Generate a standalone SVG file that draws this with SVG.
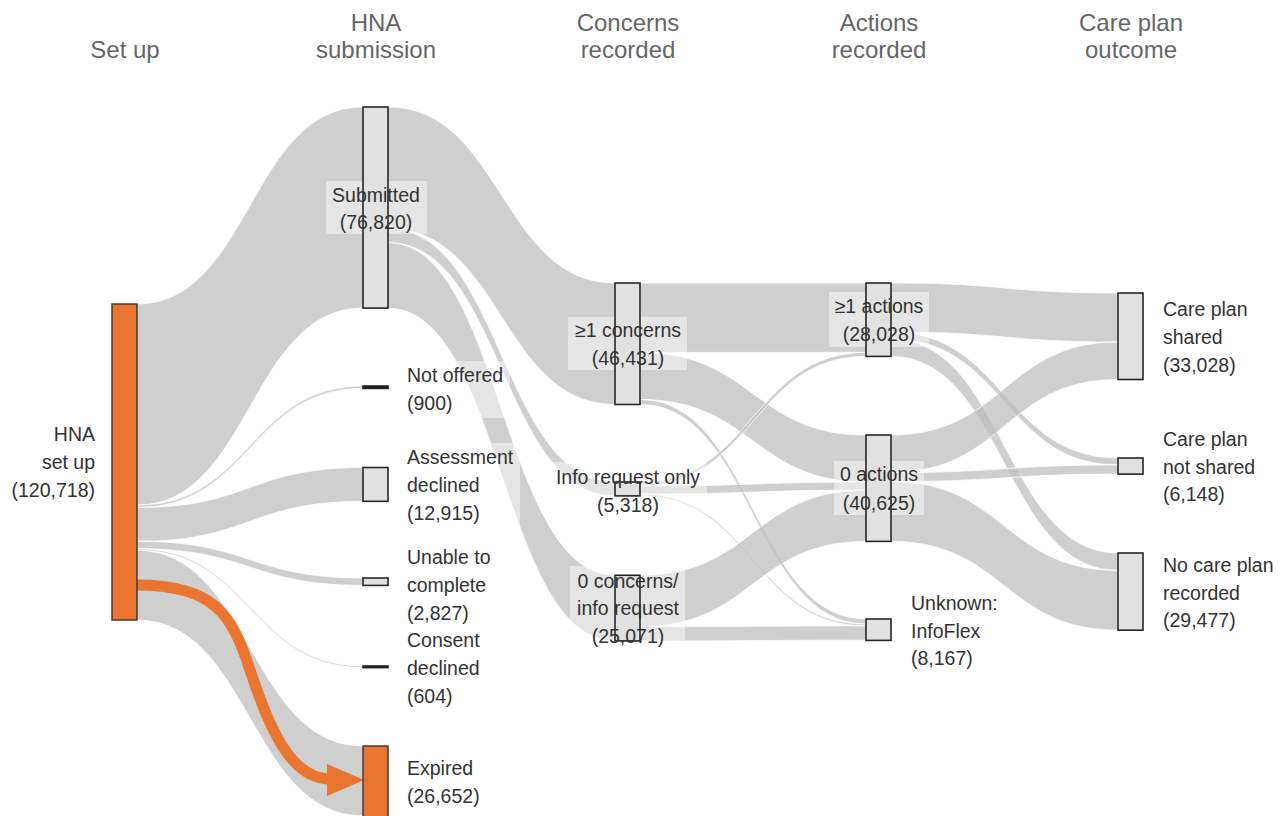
<svg xmlns="http://www.w3.org/2000/svg" width="1285" height="816" viewBox="0 0 1285 816">
<style>
.hdr{font-family:"Liberation Sans",Arial,sans-serif;font-size:24px;fill:#666;text-anchor:middle}
.lbl{font-family:"Liberation Sans",Arial,sans-serif;font-size:19.5px;fill:#333}
.mid{text-anchor:middle}
.end{text-anchor:end}
.flow{fill:#bdbdbd;fill-opacity:0.72;stroke:#fff;stroke-width:0.9;stroke-opacity:0.85}
.node{fill:#e1e1e1;stroke:#262626;stroke-width:1.6}
.dark{fill:#222;stroke:#222;stroke-width:1.6}
.orange{fill:#ea7531;stroke:#333;stroke-width:1.4}
.box{fill:#fff;fill-opacity:0.45}
</style>
<rect width="1285" height="816" fill="#fff"/>
<g id="headers">
<text class="hdr" x="125" y="58">Set up</text>
<text class="hdr" x="376" y="31">HNA</text>
<text class="hdr" x="376" y="58">submission</text>
<text class="hdr" x="628" y="31">Concerns</text>
<text class="hdr" x="628" y="58">recorded</text>
<text class="hdr" x="879" y="31">Actions</text>
<text class="hdr" x="879" y="58">recorded</text>
<text class="hdr" x="1131" y="31">Care plan</text>
<text class="hdr" x="1131" y="58">outcome</text>
</g>
<g id="connectors">
<path class="flow" d="M137,304 C250,304 250,107 363,107 L363,308.1 C250,308.1 250,505.1 137,505.1 Z"/>
<path class="flow" d="M137,505.1 C250,505.1 250,386 363,386 L363,388.4 C250,388.4 250,507.5 137,507.5 Z"/>
<path class="flow" d="M137,507.5 C250,507.5 250,467.5 363,467.5 L363,501.3 C250,501.3 250,541.3 137,541.3 Z"/>
<path class="flow" d="M137,541.3 C250,541.3 250,578 363,578 L363,585.4 C250,585.4 250,548.7 137,548.7 Z"/>
<path class="flow" d="M137,548.7 C250,548.7 250,666 363,666 L363,667.6 C250,667.6 250,550.3 137,550.3 Z"/>
<path class="flow" d="M137,550.3 C250,550.3 250,746 363,746 L363,815.8 C250,815.8 250,620.1 137,620.1 Z"/>
<path class="flow" d="M388,107 C501.5,107 501.5,283 615,283 L615,404.5 C501.5,404.5 501.5,228.6 388,228.6 Z"/>
<path class="flow" d="M388,228.6 C501.5,228.6 501.5,482 615,482 L615,495.9 C501.5,495.9 501.5,242.5 388,242.5 Z"/>
<path class="flow" d="M388,242.5 C501.5,242.5 501.5,575.3 615,575.3 L615,640.9 C501.5,640.9 501.5,308.1 388,308.1 Z"/>
<path class="flow" d="M640,283 C753,283 753,283 866,283 L866,352.4 C753,352.4 753,352.4 640,352.4 Z"/>
<path class="flow" d="M640,352.4 C753,352.4 753,435 866,435 L866,482.1 C753,482.1 753,399.5 640,399.5 Z"/>
<path class="flow" d="M640,399.5 C753,399.5 753,619 866,619 L866,624 C753,624 753,404.5 640,404.5 Z"/>
<path class="flow" d="M640,482 C753,482 753,352.4 866,352.4 L866,356.4 C753,356.4 753,486 640,486 Z"/>
<path class="flow" d="M640,486 C753,486 753,482.1 866,482.1 L866,490.1 C753,490.1 753,494 640,494 Z"/>
<path class="flow" d="M640,494 C753,494 753,624 866,624 L866,625.9 C753,625.9 753,495.9 640,495.9 Z"/>
<path class="flow" d="M640,575.3 C753,575.3 753,490.1 866,490.1 L866,541.4 C753,541.4 753,626.6 640,626.6 Z"/>
<path class="flow" d="M640,626.6 C753,626.6 753,625.9 866,625.9 L866,640.2 C753,640.2 753,640.9 640,640.9 Z"/>
<path class="flow" d="M891,283 C1004.5,283 1004.5,293 1118,293 L1118,342 C1004.5,342 1004.5,332 891,332 Z"/>
<path class="flow" d="M891,332 C1004.5,332 1004.5,458 1118,458 L1118,465 C1004.5,465 1004.5,339 891,339 Z"/>
<path class="flow" d="M891,339 C1004.5,339 1004.5,553 1118,553 L1118,570.4 C1004.5,570.4 1004.5,356.4 891,356.4 Z"/>
<path class="flow" d="M891,435 C1004.5,435 1004.5,342 1118,342 L1118,379.5 C1004.5,379.5 1004.5,472.5 891,472.5 Z"/>
<path class="flow" d="M891,472.5 C1004.5,472.5 1004.5,465 1118,465 L1118,474.1 C1004.5,474.1 1004.5,481.6 891,481.6 Z"/>
<path class="flow" d="M891,481.6 C1004.5,481.6 1004.5,570.4 1118,570.4 L1118,630.2 C1004.5,630.2 1004.5,541.4 891,541.4 Z"/>
<path id="expired-arrow" d="M137,585 C215,585 232,615 250,670 C268,725 290,779 330,779" fill="none" stroke="#ea7531" stroke-width="11"/>
<polygon points="327,764 364,780 327,796" fill="#ea7531"/>
</g>
<g id="label-boxes">
<rect class="box" x="326" y="181" width="101" height="53"/>
<rect class="box" x="402" y="361" width="108" height="57"/>
<rect class="box" x="402" y="443" width="118" height="84"/>
<rect class="box" x="548" y="462" width="159" height="58"/>
<rect class="box" x="568" y="317" width="119" height="53"/>
<rect class="box" x="570" y="566" width="115" height="82"/>
<rect class="box" x="829" y="292" width="100" height="55"/>
<rect class="box" x="834" y="461" width="90" height="54"/>
</g>
<g id="node-setup"><rect class="orange" x="112" y="304" width="25" height="316"/>
<text class="lbl end" x="95" y="441">HNA</text><text class="lbl end" x="95" y="469">set up</text><text class="lbl end" x="95" y="497">(120,718)</text></g>
<g id="node-submitted"><rect class="node" x="363" y="107" width="25" height="201.1"/>
<text class="lbl mid" x="376" y="202">Submitted</text><text class="lbl mid" x="376" y="229">(76,820)</text></g>
<g id="node-notoffered"><rect class="dark" x="363" y="386" width="25" height="2.4"/>
<text class="lbl" x="407" y="382">Not offered</text><text class="lbl" x="407" y="410">(900)</text></g>
<g id="node-assessment"><rect class="node" x="363" y="467.5" width="25" height="33.8"/>
<text class="lbl" x="407" y="464">Assessment</text><text class="lbl" x="407" y="492">declined</text><text class="lbl" x="407" y="520">(12,915)</text></g>
<g id="node-unable"><rect class="node" x="363" y="578" width="25" height="7.4"/>
<text class="lbl" x="407" y="564">Unable to</text><text class="lbl" x="407" y="592">complete</text><text class="lbl" x="407" y="620">(2,827)</text></g>
<g id="node-consent"><rect class="dark" x="363" y="666" width="25" height="1.6"/>
<text class="lbl" x="407" y="647">Consent</text><text class="lbl" x="407" y="675">declined</text><text class="lbl" x="407" y="703">(604)</text></g>
<g id="node-expired"><rect class="orange" x="363" y="746" width="25" height="72"/>
<text class="lbl" x="407" y="775">Expired</text><text class="lbl" x="407" y="803">(26,652)</text></g>
<g id="node-concerns1"><rect class="node" x="615" y="283" width="25" height="121.5"/>
<text class="lbl mid" x="628" y="337">≥1 concerns</text><text class="lbl mid" x="628" y="365">(46,431)</text></g>
<g id="node-inforeq"><rect class="node" x="615" y="482" width="25" height="13.9"/>
<text class="lbl mid" x="628" y="484">Info request only</text><text class="lbl mid" x="628" y="512">(5,318)</text></g>
<g id="node-concerns0"><rect class="node" x="615" y="575.3" width="25" height="65.6"/>
<text class="lbl mid" x="628" y="588">0 concerns/</text><text class="lbl mid" x="628" y="615">info request</text><text class="lbl mid" x="628" y="643">(25,071)</text></g>
<g id="node-actions1"><rect class="node" x="866" y="283" width="25" height="73.4"/>
<text class="lbl mid" x="879" y="313">≥1 actions</text><text class="lbl mid" x="879" y="341">(28,028)</text></g>
<g id="node-actions0"><rect class="node" x="866" y="435" width="25" height="106.4"/>
<text class="lbl mid" x="879" y="481">0 actions</text><text class="lbl mid" x="879" y="510">(40,625)</text></g>
<g id="node-unknown"><rect class="node" x="866" y="619" width="25" height="21.4"/>
<text class="lbl" x="911" y="610">Unknown:</text><text class="lbl" x="911" y="638">InfoFlex</text><text class="lbl" x="911" y="665">(8,167)</text></g>
<g id="node-shared"><rect class="node" x="1118" y="293" width="25" height="86.5"/>
<text class="lbl" x="1163" y="316">Care plan</text><text class="lbl" x="1163" y="344">shared</text><text class="lbl" x="1163" y="372">(33,028)</text></g>
<g id="node-notshared"><rect class="node" x="1118" y="458" width="25" height="16.1"/>
<text class="lbl" x="1163" y="446">Care plan</text><text class="lbl" x="1163" y="474">not shared</text><text class="lbl" x="1163" y="501">(6,148)</text></g>
<g id="node-noplan"><rect class="node" x="1118" y="553" width="25" height="77.2"/>
<text class="lbl" x="1163" y="572">No care plan</text><text class="lbl" x="1163" y="600">recorded</text><text class="lbl" x="1163" y="627">(29,477)</text></g>
</svg>
